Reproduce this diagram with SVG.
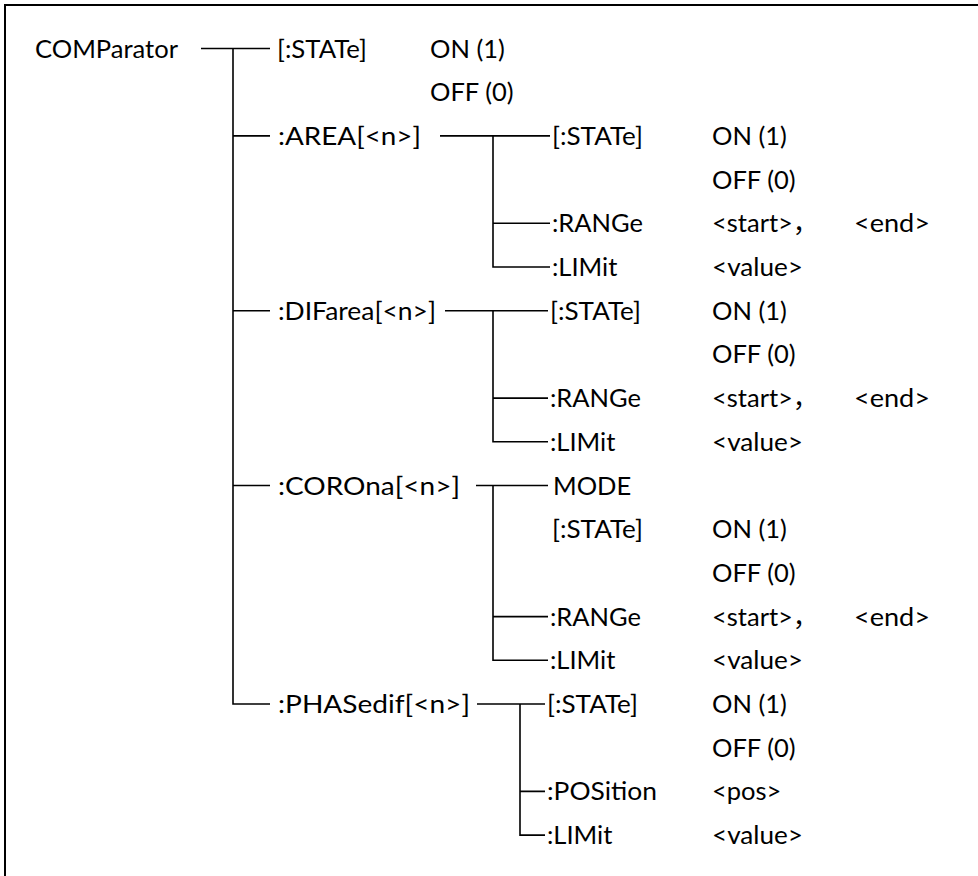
<svg xmlns="http://www.w3.org/2000/svg" width="978" height="876" viewBox="0 0 978 876">
  <style>
    text { font-family: Lato, "Noto Sans CJK SC", sans-serif; font-size: 25.5px; fill: #000; }
    .ln { stroke: #000; stroke-width: 1.6; fill: none; }
    .frame { stroke: #000; stroke-width: 2; fill: none; }
  </style>
  <rect width="978" height="876" fill="#fff"/>
  <!-- open frame: top and left edges -->
  <path class="frame" d="M5 878 V5 H980"/>

  <!-- connectors -->
  <g id="connectors">
    <path class="ln" d="M201 48.5 H270 M233 48.5 V704 H270 M233 135.9 H270 M233 310.7 H270 M233 485.5 H270"/>
    <!-- AREA branch -->
    <path class="ln" d="M440 135.9 H550 M493 135.9 V267 H550 M493 223.3 H550"/>
    <!-- DIFarea branch -->
    <path class="ln" d="M445 310.7 H548 M493 310.7 V441.8 H548 M493 398.1 H548"/>
    <!-- COROna branch -->
    <path class="ln" d="M476 485.5 H548 M493 485.5 V660.3 H548 M493 616.6 H548"/>
    <!-- PHASedif branch -->
    <path class="ln" d="M477 704 H545 M520 704 V835.1 H545 M520 791.4 H545"/>
  </g>

  <g id="root"><text x="35" y="57.5" textLength="143" lengthAdjust="spacingAndGlyphs">COMParator</text></g>

  <g id="state">
    <text x="277" y="57.5" textLength="90" lengthAdjust="spacingAndGlyphs">[:STATe]</text>
    <text x="430" y="57.5">ON (1)</text>
    <text x="430" y="101.2">OFF (0)</text>
  </g>

  <g id="area">
    <text x="278" y="144.9" textLength="143" lengthAdjust="spacingAndGlyphs">:AREA[&lt;n&gt;]</text>
    <text x="552" y="144.9" textLength="91" lengthAdjust="spacingAndGlyphs">[:STATe]</text>
    <text x="712" y="144.9">ON (1)</text>
    <text x="712" y="188.6">OFF (0)</text>
    <text x="552" y="232.3">:RANGe</text>
    <text x="712" y="232.3">&lt;start&gt;，</text>
    <text x="854" y="232.3" textLength="76" lengthAdjust="spacingAndGlyphs">&lt;end&gt;</text>
    <text x="552" y="276">:LIMit</text>
    <text x="712" y="276" textLength="91" lengthAdjust="spacingAndGlyphs">&lt;value&gt;</text>
  </g>

  <g id="difarea">
    <text x="278" y="319.7" textLength="158" lengthAdjust="spacingAndGlyphs">:DIFarea[&lt;n&gt;]</text>
    <text x="550" y="319.7" textLength="91" lengthAdjust="spacingAndGlyphs">[:STATe]</text>
    <text x="712" y="319.7">ON (1)</text>
    <text x="712" y="363.4">OFF (0)</text>
    <text x="550" y="407.1">:RANGe</text>
    <text x="712" y="407.1">&lt;start&gt;，</text>
    <text x="854" y="407.1" textLength="76" lengthAdjust="spacingAndGlyphs">&lt;end&gt;</text>
    <text x="550" y="450.8">:LIMit</text>
    <text x="712" y="450.8" textLength="91" lengthAdjust="spacingAndGlyphs">&lt;value&gt;</text>
  </g>

  <g id="corona">
    <text x="278" y="494.5" textLength="182" lengthAdjust="spacingAndGlyphs">:COROna[&lt;n&gt;]</text>
    <text x="553" y="494.5">MODE</text>
    <text x="552" y="538.2" textLength="91" lengthAdjust="spacingAndGlyphs">[:STATe]</text>
    <text x="712" y="538.2">ON (1)</text>
    <text x="712" y="581.9">OFF (0)</text>
    <text x="550" y="625.6">:RANGe</text>
    <text x="712" y="625.6">&lt;start&gt;，</text>
    <text x="854" y="625.6" textLength="76" lengthAdjust="spacingAndGlyphs">&lt;end&gt;</text>
    <text x="550" y="669.3">:LIMit</text>
    <text x="712" y="669.3" textLength="91" lengthAdjust="spacingAndGlyphs">&lt;value&gt;</text>
  </g>

  <g id="phasedif">
    <text x="278" y="713" textLength="192" lengthAdjust="spacingAndGlyphs">:PHASedif[&lt;n&gt;]</text>
    <text x="547" y="713" textLength="91" lengthAdjust="spacingAndGlyphs">[:STATe]</text>
    <text x="712" y="713">ON (1)</text>
    <text x="712" y="756.7">OFF (0)</text>
    <text x="547" y="800.4" textLength="110" lengthAdjust="spacingAndGlyphs">:POSition</text>
    <text x="712" y="800.4">&lt;pos&gt;</text>
    <text x="547" y="844.1">:LIMit</text>
    <text x="712" y="844.1" textLength="91" lengthAdjust="spacingAndGlyphs">&lt;value&gt;</text>
  </g>
</svg>
